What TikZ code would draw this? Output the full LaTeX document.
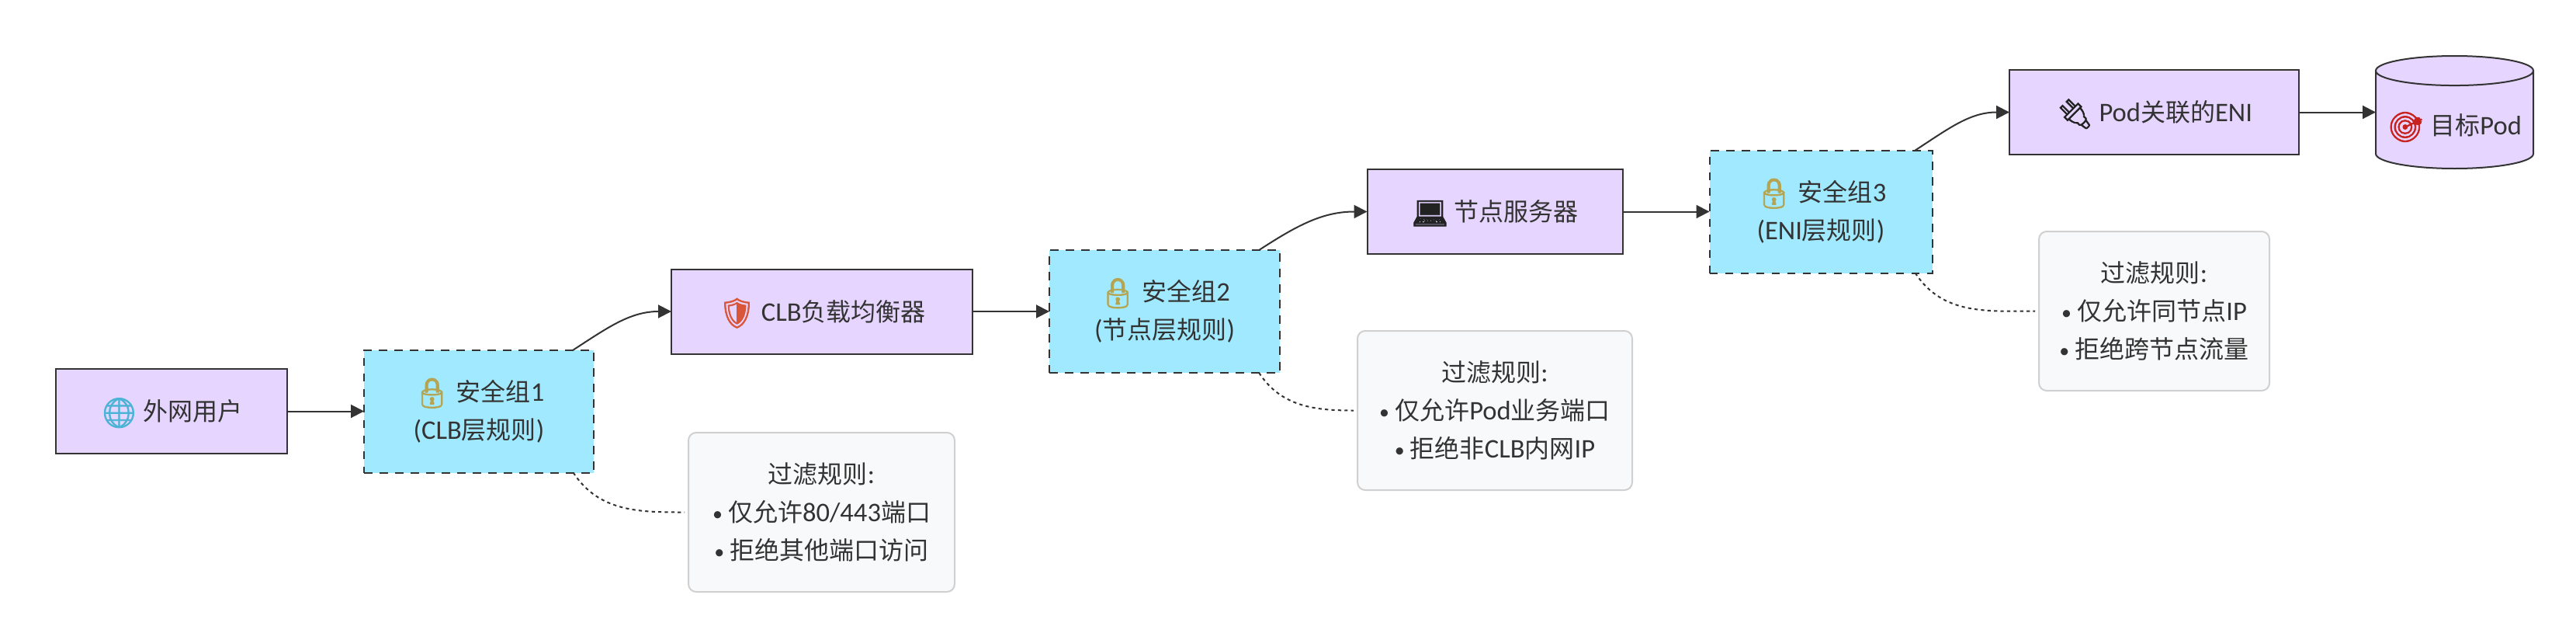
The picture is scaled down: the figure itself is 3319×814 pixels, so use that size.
\documentclass[tikz,border=0pt]{standalone}
\usepackage{fontspec}
\usetikzlibrary{arrows.meta,shapes.geometric}
\setmainfont{Noto Sans CJK SC}
\newfontfamily\latinfont[Scale=1.08]{Carlito}
\newfontfamily\emojifont[FakeBold=2]{Noto Emoji}
\definecolor{hostfill}{HTML}{E6D5FF}
\definecolor{groupfill}{HTML}{A0E9FF}
\definecolor{rulefill}{HTML}{F8F9FA}
\definecolor{ruleline}{HTML}{D0D0D0}
\definecolor{inkline}{HTML}{333333}
\newcommand{\lat}[1]{{\latinfont #1}}
\newcommand{\icon}[2]{\smash{\raisebox{-1.5pt}{\fontsize{19}{19}\emojifont\color[HTML]{#1}#2}}}
\newcommand{\iconglobe}{\icon{4BB4D6}{🌐}}
\newcommand{\iconlock}{\icon{B5A552}{🔒}}
\newcommand{\iconshield}{\icon{D9563A}{🛡}}
\newcommand{\iconlaptop}{\icon{222222}{💻}}
\newcommand{\iconplug}{\icon{222222}{🔌}}
\newcommand{\icontarget}{\icon{C9211E}{🎯}}
\newcommand{\dotitem}{\raisebox{.8pt}{\fontsize{12}{12}\latinfont •}\ }
\tikzset{
  boxbase/.style={inner sep=0pt, outer sep=0pt, align=center, text=inkline,
    font=\fontsize{16}{24.5}\selectfont},
  host/.style={boxbase, draw=inkline, fill=hostfill, line width=1pt, minimum height=54.5pt},
  group/.style={boxbase, draw=inkline, fill=groupfill, line width=1pt,
    dash pattern=on 5.3pt off 4.7pt, minimum height=79pt},
  rulebox/.style={boxbase, draw=ruleline, fill=rulefill, line width=1pt,
    rounded corners=5pt, minimum height=102.5pt},
  store/.style={boxbase, draw=inkline, fill=hostfill, line width=1pt, cylinder,
    shape border rotate=90, aspect=.22, cylinder uses custom fill,
    cylinder body fill=hostfill, cylinder end fill=hostfill,
    minimum width=101.5pt, minimum height=72.5pt, anchor=shape center},
  flow/.style={draw=inkline, line width=1pt, -{Triangle[length=8.5pt,width=8.5pt]}},
  ruleedge/.style={draw=inkline, line width=1pt, dash pattern=on 2.1pt off 2.1pt, shorten >=2.5pt}
}
\begin{document}
\begin{tikzpicture}[x=0.5pt,y=-0.5pt]
  \useasboundingbox (0,0) rectangle (3319,814);
  \draw
    (221,529.5) node[host,minimum width=149pt] (user){\iconglobe\ 外网用户}
    (617,529.5) node[group,minimum width=148pt] (sg1){\iconlock\ 安全组\lat{1}\\\lat{(CLB}层规则\lat{)}}
    (1059,401) node[host,minimum width=194pt] (clb){\iconshield\ \lat{CLB}负载均衡器}
    (1500.5,401) node[group,minimum width=148.5pt] (sg2){\iconlock\ 安全组\lat{2}\\\lat{(}节点层规则\lat{)}}
    (1926,272.5) node[host,minimum width=164.5pt] (server){\iconlaptop\ 节点服务器}
    (2346,272.5) node[group,minimum width=143.5pt] (sg3){\iconlock\ 安全组\lat{3}\\\lat{(ENI}层规则\lat{)}}
    (2775.5,144.5) node[host,minimum width=186.5pt] (eni){\iconplug\ \lat{Pod}关联的\lat{ENI}}
    (3162.5,144.5) node[store] (pod){\raisebox{-9.5pt}[0pt][0pt]{\icontarget\ 目标\lat{Pod}}}
    (1058.5,659.5) node[rulebox,minimum width=171.5pt] (rule1){过滤规则\lat{:}\\\dotitem 仅允许\lat{80/443}端口\\\dotitem 拒绝其他端口访问}
    (1926,528.5) node[rulebox,minimum width=177pt] (rule2){过滤规则\lat{:}\\\dotitem 仅允许\lat{Pod}业务端口\\\dotitem 拒绝非\lat{CLB}内网\lat{IP}}
    (2775.5,400.5) node[rulebox,minimum width=148.5pt] (rule3){过滤规则\lat{:}\\\dotitem 仅允许同节点\lat{IP}\\\dotitem 拒绝跨节点流量};
  \begin{scope}[flow]
    \draw (user.east) to (sg1.west);
    \draw (sg1.33) to[out=33,in=180] (clb.west);
    \draw (clb.east) to (sg2.west);
    \draw (sg2.33) to[out=33,in=180] (server.west);
    \draw (server.east) to (sg3.west);
    \draw (sg3.33) to[out=33,in=180] (eni.west);
    \draw (eni.east) to (eni.east -| pod.west);
  \end{scope}
  \begin{scope}[ruleedge]
    \draw (sg1.-33) to[out=-57,in=180] (rule1.west);
    \draw (sg2.-33) to[out=-57,in=180] (rule2.west);
    \draw (sg3.-33) to[out=-57,in=180] (rule3.west);
  \end{scope}
\end{tikzpicture}
\end{document}
